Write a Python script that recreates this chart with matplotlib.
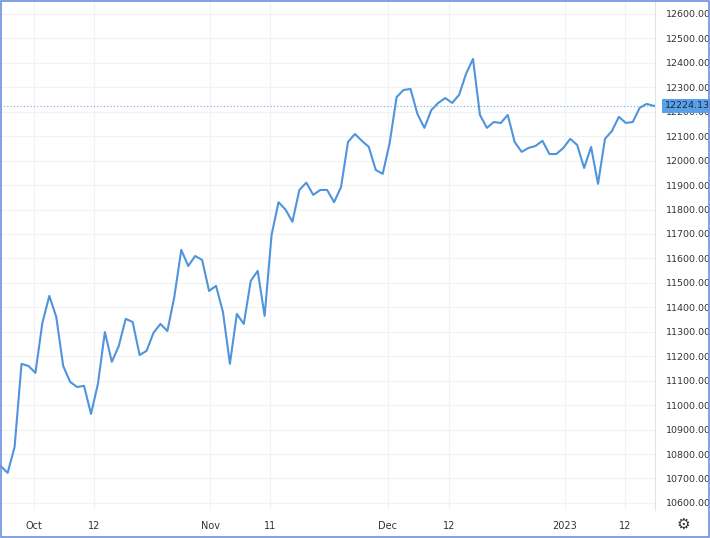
import matplotlib
matplotlib.use("Agg")
import matplotlib.pyplot as plt
from matplotlib.patches import Rectangle

values = [10751, 10723, 10829, 11169, 11160, 11132, 11336, 11447, 11361, 11160,
          11095, 11074, 11079, 10964, 11087, 11299, 11177, 11242, 11353, 11340,
          11205, 11222, 11296, 11332, 11303, 11443, 11635, 11569, 11610, 11594,
          11467, 11488, 11381, 11169, 11373, 11332, 11508, 11549, 11365, 11696,
          11830, 11800, 11750, 11880, 11910, 11860, 11880, 11880, 11830, 11892,
          12076, 12109, 12081, 12056, 11962, 11946, 12072, 12260, 12289, 12293,
          12191, 12134, 12207, 12236, 12256, 12236, 12269, 12355, 12416, 12187,
          12134, 12158, 12154, 12187, 12076, 12036, 12052, 12060, 12081, 12027,
          12027, 12052, 12089, 12064, 11970, 12056, 11905, 12089, 12121, 12179,
          12154, 12158, 12216, 12232, 12224.13, 12224.13]
tick_labels = ["Oct", "12", "Nov", "11", "Dec", "12", "2023", "12"]
tick_pos = [4.74, 13.4, 30.2, 38.8, 55.7, 64.5, 81.2, 89.9]
y_ticks = list(range(10600, 12601, 100))
last_price = 12224.13

fig = plt.figure(figsize=(7.1, 5.38), dpi=100)
ax = fig.add_axes([0.0, 0.052, 0.9225, 0.948])
x = list(range(len(values)))
ax.plot(x, values, color="#4f94dc", lw=1.5, zorder=3)
ax.set_xlim(-0.1, 94.2)
ax.set_ylim(10571, 12657)
ax.set_yticks(y_ticks)
ax.set_yticklabels([f"{v:.2f}" for v in y_ticks])
ax.yaxis.tick_right()
ax.tick_params(axis="y", length=0, labelsize=6.8, labelcolor="#333333", pad=8)
ax.set_xticks(tick_pos)
ax.set_xticklabels(tick_labels)
ax.tick_params(axis="x", length=0, labelsize=7, labelcolor="#333333", pad=8)
ax.grid(True, color="#f0f2f5", lw=0.8)
for s in ["top", "left", "bottom"]:
    ax.spines[s].set_visible(False)
ax.spines["right"].set_color("#e0e3eb")
ax.axhline(last_price, color="#4f94dc", lw=0.8, ls=(0, (1, 2)), alpha=0.8)
ax.annotate(f"{last_price:.2f}", xy=(1.0, last_price), xycoords=("axes fraction", "data"),
            xytext=(7, 0), textcoords="offset points", ha="left", va="center",
            fontsize=6.8, color="#1a2a40",
            bbox=dict(boxstyle="square,pad=0.3", fc="#5aa0e6", ec="none"))
fig.text(0.963, 0.026, "\u2699", ha="center", va="center", fontsize=11, color="#333333")
fig.patches.append(Rectangle((0.001, 0.001), 0.997, 0.997, transform=fig.transFigure,
                             fill=False, ec="#6f8fe0", lw=1.2))
fig.savefig("out.png", dpi=100)
